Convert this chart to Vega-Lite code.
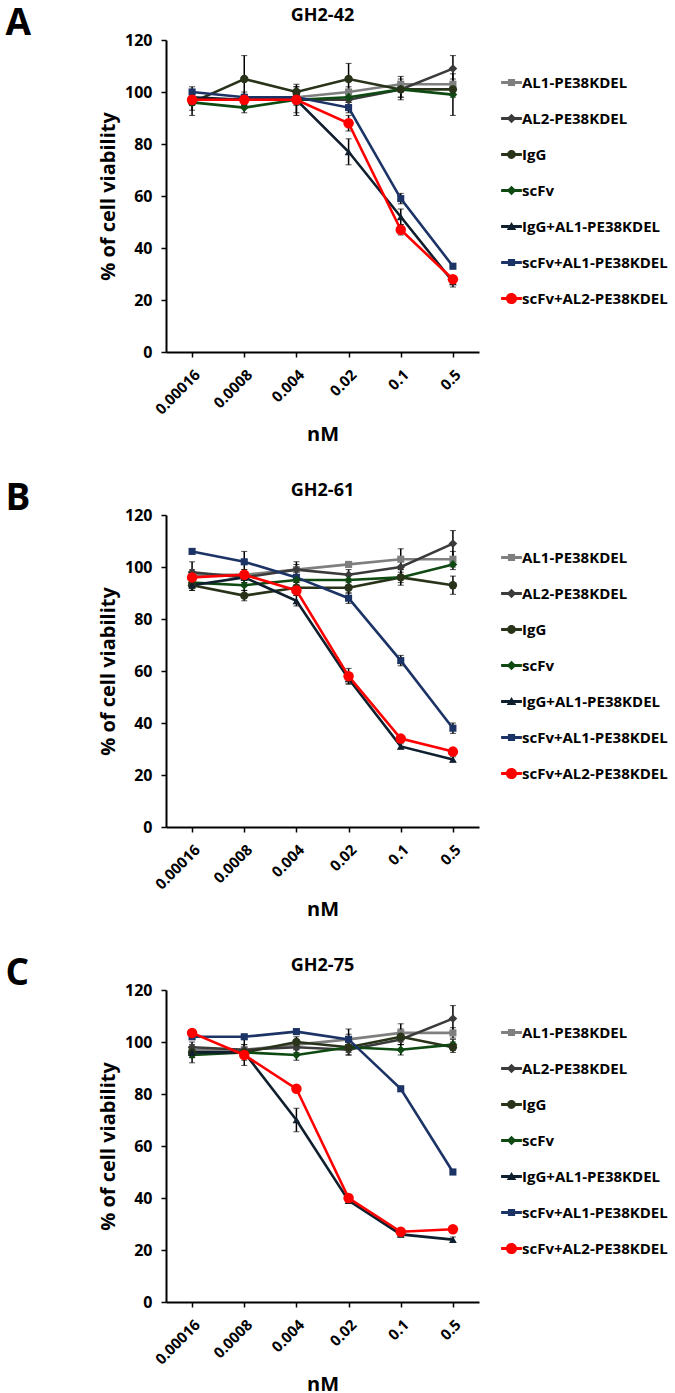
{
  "$schema": "https://vega.github.io/schema/vega-lite/v6.json",
  "padding": {"left": 5, "top": 5, "right": 5, "bottom": 5},
  "config": {
    "font": "Open Sans",
    "view": {"stroke": null},
    "axis": {"labelFont": "Open Sans", "labelFontWeight": "bold", "labelColor": "black", "titleFont": "Open Sans", "titleFontWeight": "bold", "titleColor": "black", "domainColor": "black", "tickColor": "black", "grid": false, "domainWidth": 2, "tickWidth": 1.5, "tickSize": 5},
    "title": {"font": "Open Sans", "fontWeight": "bold", "color": "black"},
    "legend": {"labelFont": "Open Sans", "labelFontWeight": "bold", "labelFontSize": 15, "labelColor": "black"}
  },
  "datasets": {
    "d": [
      {"p":"GH2-42","s":"AL1-PE38KDEL","c":"0.00016","v":97,"e":2},
      {"p":"GH2-42","s":"AL1-PE38KDEL","c":"0.0008","v":97,"e":2},
      {"p":"GH2-42","s":"AL1-PE38KDEL","c":"0.004","v":98,"e":2},
      {"p":"GH2-42","s":"AL1-PE38KDEL","c":"0.02","v":100,"e":2},
      {"p":"GH2-42","s":"AL1-PE38KDEL","c":"0.1","v":103,"e":3},
      {"p":"GH2-42","s":"AL1-PE38KDEL","c":"0.5","v":103,"e":2},
      {"p":"GH2-42","s":"AL2-PE38KDEL","c":"0.00016","v":97,"e":2},
      {"p":"GH2-42","s":"AL2-PE38KDEL","c":"0.0008","v":97,"e":2},
      {"p":"GH2-42","s":"AL2-PE38KDEL","c":"0.004","v":97,"e":2},
      {"p":"GH2-42","s":"AL2-PE38KDEL","c":"0.02","v":97,"e":2},
      {"p":"GH2-42","s":"AL2-PE38KDEL","c":"0.1","v":101,"e":3},
      {"p":"GH2-42","s":"AL2-PE38KDEL","c":"0.5","v":109,"e":5},
      {"p":"GH2-42","s":"IgG","c":"0.00016","v":96,"e":5},
      {"p":"GH2-42","s":"IgG","c":"0.0008","v":105,"e":9},
      {"p":"GH2-42","s":"IgG","c":"0.004","v":100,"e":2},
      {"p":"GH2-42","s":"IgG","c":"0.02","v":105,"e":6},
      {"p":"GH2-42","s":"IgG","c":"0.1","v":101,"e":3},
      {"p":"GH2-42","s":"IgG","c":"0.5","v":101,"e":3},
      {"p":"GH2-42","s":"scFv","c":"0.00016","v":96,"e":3},
      {"p":"GH2-42","s":"scFv","c":"0.0008","v":94,"e":2},
      {"p":"GH2-42","s":"scFv","c":"0.004","v":97,"e":6},
      {"p":"GH2-42","s":"scFv","c":"0.02","v":98,"e":2},
      {"p":"GH2-42","s":"scFv","c":"0.1","v":101,"e":4},
      {"p":"GH2-42","s":"scFv","c":"0.5","v":99,"e":8},
      {"p":"GH2-42","s":"IgG+AL1-PE38KDEL","c":"0.00016","v":98,"e":2},
      {"p":"GH2-42","s":"IgG+AL1-PE38KDEL","c":"0.0008","v":97,"e":2},
      {"p":"GH2-42","s":"IgG+AL1-PE38KDEL","c":"0.004","v":97,"e":5},
      {"p":"GH2-42","s":"IgG+AL1-PE38KDEL","c":"0.02","v":77,"e":5},
      {"p":"GH2-42","s":"IgG+AL1-PE38KDEL","c":"0.1","v":52,"e":3},
      {"p":"GH2-42","s":"IgG+AL1-PE38KDEL","c":"0.5","v":27,"e":2},
      {"p":"GH2-42","s":"scFv+AL1-PE38KDEL","c":"0.00016","v":100,"e":2},
      {"p":"GH2-42","s":"scFv+AL1-PE38KDEL","c":"0.0008","v":98,"e":2},
      {"p":"GH2-42","s":"scFv+AL1-PE38KDEL","c":"0.004","v":98,"e":2},
      {"p":"GH2-42","s":"scFv+AL1-PE38KDEL","c":"0.02","v":94,"e":2},
      {"p":"GH2-42","s":"scFv+AL1-PE38KDEL","c":"0.1","v":59,"e":2},
      {"p":"GH2-42","s":"scFv+AL1-PE38KDEL","c":"0.5","v":33,"e":1},
      {"p":"GH2-42","s":"scFv+AL2-PE38KDEL","c":"0.00016","v":97,"e":2},
      {"p":"GH2-42","s":"scFv+AL2-PE38KDEL","c":"0.0008","v":97,"e":2},
      {"p":"GH2-42","s":"scFv+AL2-PE38KDEL","c":"0.004","v":97,"e":2},
      {"p":"GH2-42","s":"scFv+AL2-PE38KDEL","c":"0.02","v":88,"e":3},
      {"p":"GH2-42","s":"scFv+AL2-PE38KDEL","c":"0.1","v":47,"e":2},
      {"p":"GH2-42","s":"scFv+AL2-PE38KDEL","c":"0.5","v":28,"e":1},

      {"p":"GH2-61","s":"AL1-PE38KDEL","c":"0.00016","v":97,"e":2},
      {"p":"GH2-61","s":"AL1-PE38KDEL","c":"0.0008","v":97,"e":2},
      {"p":"GH2-61","s":"AL1-PE38KDEL","c":"0.004","v":99,"e":2},
      {"p":"GH2-61","s":"AL1-PE38KDEL","c":"0.02","v":101,"e":1},
      {"p":"GH2-61","s":"AL1-PE38KDEL","c":"0.1","v":103,"e":4},
      {"p":"GH2-61","s":"AL1-PE38KDEL","c":"0.5","v":103,"e":3},
      {"p":"GH2-61","s":"AL2-PE38KDEL","c":"0.00016","v":98,"e":4},
      {"p":"GH2-61","s":"AL2-PE38KDEL","c":"0.0008","v":96,"e":2},
      {"p":"GH2-61","s":"AL2-PE38KDEL","c":"0.004","v":99,"e":3},
      {"p":"GH2-61","s":"AL2-PE38KDEL","c":"0.02","v":97,"e":2},
      {"p":"GH2-61","s":"AL2-PE38KDEL","c":"0.1","v":100,"e":3},
      {"p":"GH2-61","s":"AL2-PE38KDEL","c":"0.5","v":109,"e":5},
      {"p":"GH2-61","s":"IgG","c":"0.00016","v":93,"e":2},
      {"p":"GH2-61","s":"IgG","c":"0.0008","v":89,"e":2},
      {"p":"GH2-61","s":"IgG","c":"0.004","v":92,"e":2},
      {"p":"GH2-61","s":"IgG","c":"0.02","v":92,"e":2},
      {"p":"GH2-61","s":"IgG","c":"0.1","v":96,"e":3},
      {"p":"GH2-61","s":"IgG","c":"0.5","v":93,"e":3.5},
      {"p":"GH2-61","s":"scFv","c":"0.00016","v":94,"e":2},
      {"p":"GH2-61","s":"scFv","c":"0.0008","v":93,"e":2},
      {"p":"GH2-61","s":"scFv","c":"0.004","v":95,"e":2},
      {"p":"GH2-61","s":"scFv","c":"0.02","v":95,"e":2},
      {"p":"GH2-61","s":"scFv","c":"0.1","v":96,"e":2},
      {"p":"GH2-61","s":"scFv","c":"0.5","v":101,"e":2},
      {"p":"GH2-61","s":"IgG+AL1-PE38KDEL","c":"0.00016","v":93,"e":2},
      {"p":"GH2-61","s":"IgG+AL1-PE38KDEL","c":"0.0008","v":96,"e":2},
      {"p":"GH2-61","s":"IgG+AL1-PE38KDEL","c":"0.004","v":87,"e":2},
      {"p":"GH2-61","s":"IgG+AL1-PE38KDEL","c":"0.02","v":57,"e":2},
      {"p":"GH2-61","s":"IgG+AL1-PE38KDEL","c":"0.1","v":31,"e":1},
      {"p":"GH2-61","s":"IgG+AL1-PE38KDEL","c":"0.5","v":26,"e":1},
      {"p":"GH2-61","s":"scFv+AL1-PE38KDEL","c":"0.00016","v":106,"e":1},
      {"p":"GH2-61","s":"scFv+AL1-PE38KDEL","c":"0.0008","v":102,"e":4},
      {"p":"GH2-61","s":"scFv+AL1-PE38KDEL","c":"0.004","v":96,"e":2},
      {"p":"GH2-61","s":"scFv+AL1-PE38KDEL","c":"0.02","v":88,"e":2},
      {"p":"GH2-61","s":"scFv+AL1-PE38KDEL","c":"0.1","v":64,"e":2},
      {"p":"GH2-61","s":"scFv+AL1-PE38KDEL","c":"0.5","v":38,"e":2},
      {"p":"GH2-61","s":"scFv+AL2-PE38KDEL","c":"0.00016","v":96,"e":2},
      {"p":"GH2-61","s":"scFv+AL2-PE38KDEL","c":"0.0008","v":97,"e":2},
      {"p":"GH2-61","s":"scFv+AL2-PE38KDEL","c":"0.004","v":91,"e":2},
      {"p":"GH2-61","s":"scFv+AL2-PE38KDEL","c":"0.02","v":58,"e":3},
      {"p":"GH2-61","s":"scFv+AL2-PE38KDEL","c":"0.1","v":34,"e":1},
      {"p":"GH2-61","s":"scFv+AL2-PE38KDEL","c":"0.5","v":29,"e":1},

      {"p":"GH2-75","s":"AL1-PE38KDEL","c":"0.00016","v":97,"e":2},
      {"p":"GH2-75","s":"AL1-PE38KDEL","c":"0.0008","v":97,"e":2},
      {"p":"GH2-75","s":"AL1-PE38KDEL","c":"0.004","v":99,"e":2},
      {"p":"GH2-75","s":"AL1-PE38KDEL","c":"0.02","v":101,"e":2},
      {"p":"GH2-75","s":"AL1-PE38KDEL","c":"0.1","v":103.5,"e":3.5},
      {"p":"GH2-75","s":"AL1-PE38KDEL","c":"0.5","v":103.5,"e":2},
      {"p":"GH2-75","s":"AL2-PE38KDEL","c":"0.00016","v":98,"e":2},
      {"p":"GH2-75","s":"AL2-PE38KDEL","c":"0.0008","v":97,"e":2},
      {"p":"GH2-75","s":"AL2-PE38KDEL","c":"0.004","v":98,"e":2},
      {"p":"GH2-75","s":"AL2-PE38KDEL","c":"0.02","v":97,"e":2},
      {"p":"GH2-75","s":"AL2-PE38KDEL","c":"0.1","v":101,"e":2},
      {"p":"GH2-75","s":"AL2-PE38KDEL","c":"0.5","v":109,"e":5},
      {"p":"GH2-75","s":"IgG","c":"0.00016","v":96,"e":2},
      {"p":"GH2-75","s":"IgG","c":"0.0008","v":96,"e":2},
      {"p":"GH2-75","s":"IgG","c":"0.004","v":100,"e":2},
      {"p":"GH2-75","s":"IgG","c":"0.02","v":98,"e":2},
      {"p":"GH2-75","s":"IgG","c":"0.1","v":102,"e":3},
      {"p":"GH2-75","s":"IgG","c":"0.5","v":98,"e":2},
      {"p":"GH2-75","s":"scFv","c":"0.00016","v":95,"e":3},
      {"p":"GH2-75","s":"scFv","c":"0.0008","v":96,"e":2},
      {"p":"GH2-75","s":"scFv","c":"0.004","v":95,"e":2},
      {"p":"GH2-75","s":"scFv","c":"0.02","v":98,"e":3},
      {"p":"GH2-75","s":"scFv","c":"0.1","v":97,"e":2},
      {"p":"GH2-75","s":"scFv","c":"0.5","v":99,"e":2},
      {"p":"GH2-75","s":"IgG+AL1-PE38KDEL","c":"0.00016","v":96,"e":2},
      {"p":"GH2-75","s":"IgG+AL1-PE38KDEL","c":"0.0008","v":96,"e":5},
      {"p":"GH2-75","s":"IgG+AL1-PE38KDEL","c":"0.004","v":70,"e":4.5},
      {"p":"GH2-75","s":"IgG+AL1-PE38KDEL","c":"0.02","v":39,"e":1},
      {"p":"GH2-75","s":"IgG+AL1-PE38KDEL","c":"0.1","v":26,"e":1},
      {"p":"GH2-75","s":"IgG+AL1-PE38KDEL","c":"0.5","v":24,"e":1},
      {"p":"GH2-75","s":"scFv+AL1-PE38KDEL","c":"0.00016","v":102,"e":1},
      {"p":"GH2-75","s":"scFv+AL1-PE38KDEL","c":"0.0008","v":102,"e":1},
      {"p":"GH2-75","s":"scFv+AL1-PE38KDEL","c":"0.004","v":104,"e":1},
      {"p":"GH2-75","s":"scFv+AL1-PE38KDEL","c":"0.02","v":101,"e":4},
      {"p":"GH2-75","s":"scFv+AL1-PE38KDEL","c":"0.1","v":82,"e":1},
      {"p":"GH2-75","s":"scFv+AL1-PE38KDEL","c":"0.5","v":50,"e":1},
      {"p":"GH2-75","s":"scFv+AL2-PE38KDEL","c":"0.00016","v":103.5,"e":1},
      {"p":"GH2-75","s":"scFv+AL2-PE38KDEL","c":"0.0008","v":95,"e":2},
      {"p":"GH2-75","s":"scFv+AL2-PE38KDEL","c":"0.004","v":82,"e":1},
      {"p":"GH2-75","s":"scFv+AL2-PE38KDEL","c":"0.02","v":40,"e":1},
      {"p":"GH2-75","s":"scFv+AL2-PE38KDEL","c":"0.1","v":27,"e":1},
      {"p":"GH2-75","s":"scFv+AL2-PE38KDEL","c":"0.5","v":28,"e":1}
    ]
  },
  "spacing": 35,
  "resolve": {"legend": {"color": "independent"}},
  "vconcat": [
    {
      "title": {"text": "A", "anchor": "start", "frame": "bounds", "fontSize": 37, "offset": -36, "dx": -93},
      "resolve": {"legend": {"color": "independent"}},
      "vconcat": [{
        "title": {"text": "GH2-42", "fontSize": 18, "offset": 7},
        "width": 313, "height": 312,
        "data": {"name": "d"},
        "transform": [{"filter": "datum.p === 'GH2-42'"}],
        "encoding": {
          "x": {"field": "c", "type": "ordinal", "sort": ["0.00016","0.0008","0.004","0.02","0.1","0.5"], "scale": {"type": "point", "padding": 0.5}, "axis": {"title": "nM", "titleFontSize": 20, "labelAngle": -45, "labelFontSize": 15, "labelPadding": 10, "titlePadding": 7}},
          "y": {"field": "v", "type": "quantitative", "scale": {"domain": [0, 120]}, "axis": {"title": "% of cell viability", "titleFontSize": 20, "labelFontSize": 16, "values": [0,20,40,60,80,100,120], "titlePadding": 6, "labelPadding": 9}}
        },
        "layer": [
          {"mark": {"type": "errorbar", "ticks": {"size": 6, "color": "black", "strokeWidth": 1.5}, "rule": {"color": "black", "strokeWidth": 1.5}},
           "encoding": {"yError": {"field": "e"}, "detail": {"field": "s"}}},
          {"mark": {"type": "line", "strokeWidth": 2.6},
           "encoding": {"stroke": {"field": "s", "type": "nominal", "scale": {"range": ["#7f7f7f","#3b3b3b","#29331a","#0f1f2e","#0e4a12","#1c3366","#ff0000"]}, "legend": null}}},
          {"transform": [{"filter": "datum.s === 'AL1-PE38KDEL' || datum.s === 'scFv+AL1-PE38KDEL'"}],
           "mark": {"type": "point", "filled": true, "opacity": 1, "shape": "square", "size": 50},
           "encoding": {
             "color": {"field": "s", "type": "nominal", "scale": {"domain": ["AL1-PE38KDEL","AL2-PE38KDEL","IgG","scFv","IgG+AL1-PE38KDEL","scFv+AL1-PE38KDEL","scFv+AL2-PE38KDEL"], "range": ["#7f7f7f","#3b3b3b","#29331a","#0e4a12","#0f1f2e","#1c3366","#ff0000"]},
               "legend": {"title": null, "orient": "none", "legendX": 338, "legendY": 35, "symbolSize": 64, "rowPadding": 20, "labelOffset": 3, "padding": 0, "symbolStrokeWidth": 0,
                 "encoding": {"symbols": {"shape": {"value": {"expr": "{'AL1-PE38KDEL':'M-2.6,-0.35H2.6V0.35H-2.6Z M-0.9,-0.9H0.9V0.9H-0.9Z','AL2-PE38KDEL':'M-2.6,-0.35H2.6V0.35H-2.6Z M0,-1.2L1.2,0L0,1.2L-1.2,0Z','IgG':'M-2.6,-0.35H2.6V0.35H-2.6Z M-1.1,0A1.1,1.1,0,1,1,1.1,0A1.1,1.1,0,1,1,-1.1,0Z','scFv':'M-2.6,-0.35H2.6V0.35H-2.6Z M0,-1.2L1.2,0L0,1.2L-1.2,0Z','IgG+AL1-PE38KDEL':'M-2.6,-0.35H2.6V0.35H-2.6Z M0,-1.1L1.2,0.9L-1.2,0.9Z','scFv+AL1-PE38KDEL':'M-2.6,-0.35H2.6V0.35H-2.6Z M-0.9,-0.9H0.9V0.9H-0.9Z','scFv+AL2-PE38KDEL':'M-2.6,-0.35H2.6V0.35H-2.6Z M-1.4,0A1.4,1.4,0,1,1,1.4,0A1.4,1.4,0,1,1,-1.4,0Z'}[datum.value]"}}}}}}}},
          {"transform": [{"filter": "datum.s === 'AL2-PE38KDEL' || datum.s === 'scFv'"}],
           "mark": {"type": "point", "filled": true, "opacity": 1, "shape": "diamond", "size": 75},
           "encoding": {"color": {"field": "s", "type": "nominal"}}},
          {"transform": [{"filter": "datum.s === 'IgG'"}],
           "mark": {"type": "point", "filled": true, "opacity": 1, "shape": "circle", "size": 70},
           "encoding": {"color": {"field": "s", "type": "nominal"}}},
          {"transform": [{"filter": "datum.s === 'IgG+AL1-PE38KDEL'"}],
           "mark": {"type": "point", "filled": true, "opacity": 1, "shape": "triangle-up", "size": 60},
           "encoding": {"color": {"field": "s", "type": "nominal"}}},
          {"transform": [{"filter": "datum.s === 'scFv+AL2-PE38KDEL'"}],
           "mark": {"type": "point", "filled": true, "opacity": 1, "shape": "circle", "size": 110},
           "encoding": {"color": {"field": "s", "type": "nominal"}}}
        ]
      }]
    },
    {
      "title": {"text": "B", "anchor": "start", "frame": "bounds", "fontSize": 37, "offset": -36, "dx": -93},
      "resolve": {"legend": {"color": "independent"}},
      "vconcat": [{
        "title": {"text": "GH2-61", "fontSize": 18, "offset": 7},
        "width": 313, "height": 312,
        "data": {"name": "d"},
        "transform": [{"filter": "datum.p === 'GH2-61'"}],
        "encoding": {
          "x": {"field": "c", "type": "ordinal", "sort": ["0.00016","0.0008","0.004","0.02","0.1","0.5"], "scale": {"type": "point", "padding": 0.5}, "axis": {"title": "nM", "titleFontSize": 20, "labelAngle": -45, "labelFontSize": 15, "labelPadding": 10, "titlePadding": 7}},
          "y": {"field": "v", "type": "quantitative", "scale": {"domain": [0, 120]}, "axis": {"title": "% of cell viability", "titleFontSize": 20, "labelFontSize": 16, "values": [0,20,40,60,80,100,120], "titlePadding": 6, "labelPadding": 9}}
        },
        "layer": [
          {"mark": {"type": "errorbar", "ticks": {"size": 6, "color": "black", "strokeWidth": 1.5}, "rule": {"color": "black", "strokeWidth": 1.5}},
           "encoding": {"yError": {"field": "e"}, "detail": {"field": "s"}}},
          {"mark": {"type": "line", "strokeWidth": 2.6},
           "encoding": {"stroke": {"field": "s", "type": "nominal", "scale": {"range": ["#7f7f7f","#3b3b3b","#29331a","#0f1f2e","#0e4a12","#1c3366","#ff0000"]}, "legend": null}}},
          {"transform": [{"filter": "datum.s === 'AL1-PE38KDEL' || datum.s === 'scFv+AL1-PE38KDEL'"}],
           "mark": {"type": "point", "filled": true, "opacity": 1, "shape": "square", "size": 50},
           "encoding": {
             "color": {"field": "s", "type": "nominal", "scale": {"domain": ["AL1-PE38KDEL","AL2-PE38KDEL","IgG","scFv","IgG+AL1-PE38KDEL","scFv+AL1-PE38KDEL","scFv+AL2-PE38KDEL"], "range": ["#7f7f7f","#3b3b3b","#29331a","#0e4a12","#0f1f2e","#1c3366","#ff0000"]},
               "legend": {"title": null, "orient": "none", "legendX": 338, "legendY": 35, "symbolSize": 64, "rowPadding": 20, "labelOffset": 3, "padding": 0, "symbolStrokeWidth": 0,
                 "encoding": {"symbols": {"shape": {"value": {"expr": "{'AL1-PE38KDEL':'M-2.6,-0.35H2.6V0.35H-2.6Z M-0.9,-0.9H0.9V0.9H-0.9Z','AL2-PE38KDEL':'M-2.6,-0.35H2.6V0.35H-2.6Z M0,-1.2L1.2,0L0,1.2L-1.2,0Z','IgG':'M-2.6,-0.35H2.6V0.35H-2.6Z M-1.1,0A1.1,1.1,0,1,1,1.1,0A1.1,1.1,0,1,1,-1.1,0Z','scFv':'M-2.6,-0.35H2.6V0.35H-2.6Z M0,-1.2L1.2,0L0,1.2L-1.2,0Z','IgG+AL1-PE38KDEL':'M-2.6,-0.35H2.6V0.35H-2.6Z M0,-1.1L1.2,0.9L-1.2,0.9Z','scFv+AL1-PE38KDEL':'M-2.6,-0.35H2.6V0.35H-2.6Z M-0.9,-0.9H0.9V0.9H-0.9Z','scFv+AL2-PE38KDEL':'M-2.6,-0.35H2.6V0.35H-2.6Z M-1.4,0A1.4,1.4,0,1,1,1.4,0A1.4,1.4,0,1,1,-1.4,0Z'}[datum.value]"}}}}}}}},
          {"transform": [{"filter": "datum.s === 'AL2-PE38KDEL' || datum.s === 'scFv'"}],
           "mark": {"type": "point", "filled": true, "opacity": 1, "shape": "diamond", "size": 75},
           "encoding": {"color": {"field": "s", "type": "nominal"}}},
          {"transform": [{"filter": "datum.s === 'IgG'"}],
           "mark": {"type": "point", "filled": true, "opacity": 1, "shape": "circle", "size": 70},
           "encoding": {"color": {"field": "s", "type": "nominal"}}},
          {"transform": [{"filter": "datum.s === 'IgG+AL1-PE38KDEL'"}],
           "mark": {"type": "point", "filled": true, "opacity": 1, "shape": "triangle-up", "size": 60},
           "encoding": {"color": {"field": "s", "type": "nominal"}}},
          {"transform": [{"filter": "datum.s === 'scFv+AL2-PE38KDEL'"}],
           "mark": {"type": "point", "filled": true, "opacity": 1, "shape": "circle", "size": 110},
           "encoding": {"color": {"field": "s", "type": "nominal"}}}
        ]
      }]
    },
    {
      "title": {"text": "C", "anchor": "start", "frame": "bounds", "fontSize": 37, "offset": -36, "dx": -93},
      "resolve": {"legend": {"color": "independent"}},
      "vconcat": [{
        "title": {"text": "GH2-75", "fontSize": 18, "offset": 7},
        "width": 313, "height": 312,
        "data": {"name": "d"},
        "transform": [{"filter": "datum.p === 'GH2-75'"}],
        "encoding": {
          "x": {"field": "c", "type": "ordinal", "sort": ["0.00016","0.0008","0.004","0.02","0.1","0.5"], "scale": {"type": "point", "padding": 0.5}, "axis": {"title": "nM", "titleFontSize": 20, "labelAngle": -45, "labelFontSize": 15, "labelPadding": 10, "titlePadding": 7}},
          "y": {"field": "v", "type": "quantitative", "scale": {"domain": [0, 120]}, "axis": {"title": "% of cell viability", "titleFontSize": 20, "labelFontSize": 16, "values": [0,20,40,60,80,100,120], "titlePadding": 6, "labelPadding": 9}}
        },
        "layer": [
          {"mark": {"type": "errorbar", "ticks": {"size": 6, "color": "black", "strokeWidth": 1.5}, "rule": {"color": "black", "strokeWidth": 1.5}},
           "encoding": {"yError": {"field": "e"}, "detail": {"field": "s"}}},
          {"mark": {"type": "line", "strokeWidth": 2.6},
           "encoding": {"stroke": {"field": "s", "type": "nominal", "scale": {"range": ["#7f7f7f","#3b3b3b","#29331a","#0f1f2e","#0e4a12","#1c3366","#ff0000"]}, "legend": null}}},
          {"transform": [{"filter": "datum.s === 'AL1-PE38KDEL' || datum.s === 'scFv+AL1-PE38KDEL'"}],
           "mark": {"type": "point", "filled": true, "opacity": 1, "shape": "square", "size": 50},
           "encoding": {
             "color": {"field": "s", "type": "nominal", "scale": {"domain": ["AL1-PE38KDEL","AL2-PE38KDEL","IgG","scFv","IgG+AL1-PE38KDEL","scFv+AL1-PE38KDEL","scFv+AL2-PE38KDEL"], "range": ["#7f7f7f","#3b3b3b","#29331a","#0e4a12","#0f1f2e","#1c3366","#ff0000"]},
               "legend": {"title": null, "orient": "none", "legendX": 338, "legendY": 35, "symbolSize": 64, "rowPadding": 20, "labelOffset": 3, "padding": 0, "symbolStrokeWidth": 0,
                 "encoding": {"symbols": {"shape": {"value": {"expr": "{'AL1-PE38KDEL':'M-2.6,-0.35H2.6V0.35H-2.6Z M-0.9,-0.9H0.9V0.9H-0.9Z','AL2-PE38KDEL':'M-2.6,-0.35H2.6V0.35H-2.6Z M0,-1.2L1.2,0L0,1.2L-1.2,0Z','IgG':'M-2.6,-0.35H2.6V0.35H-2.6Z M-1.1,0A1.1,1.1,0,1,1,1.1,0A1.1,1.1,0,1,1,-1.1,0Z','scFv':'M-2.6,-0.35H2.6V0.35H-2.6Z M0,-1.2L1.2,0L0,1.2L-1.2,0Z','IgG+AL1-PE38KDEL':'M-2.6,-0.35H2.6V0.35H-2.6Z M0,-1.1L1.2,0.9L-1.2,0.9Z','scFv+AL1-PE38KDEL':'M-2.6,-0.35H2.6V0.35H-2.6Z M-0.9,-0.9H0.9V0.9H-0.9Z','scFv+AL2-PE38KDEL':'M-2.6,-0.35H2.6V0.35H-2.6Z M-1.4,0A1.4,1.4,0,1,1,1.4,0A1.4,1.4,0,1,1,-1.4,0Z'}[datum.value]"}}}}}}}},
          {"transform": [{"filter": "datum.s === 'AL2-PE38KDEL' || datum.s === 'scFv'"}],
           "mark": {"type": "point", "filled": true, "opacity": 1, "shape": "diamond", "size": 75},
           "encoding": {"color": {"field": "s", "type": "nominal"}}},
          {"transform": [{"filter": "datum.s === 'IgG'"}],
           "mark": {"type": "point", "filled": true, "opacity": 1, "shape": "circle", "size": 70},
           "encoding": {"color": {"field": "s", "type": "nominal"}}},
          {"transform": [{"filter": "datum.s === 'IgG+AL1-PE38KDEL'"}],
           "mark": {"type": "point", "filled": true, "opacity": 1, "shape": "triangle-up", "size": 60},
           "encoding": {"color": {"field": "s", "type": "nominal"}}},
          {"transform": [{"filter": "datum.s === 'scFv+AL2-PE38KDEL'"}],
           "mark": {"type": "point", "filled": true, "opacity": 1, "shape": "circle", "size": 110},
           "encoding": {"color": {"field": "s", "type": "nominal"}}}
        ]
      }]
    }
  ]
}
